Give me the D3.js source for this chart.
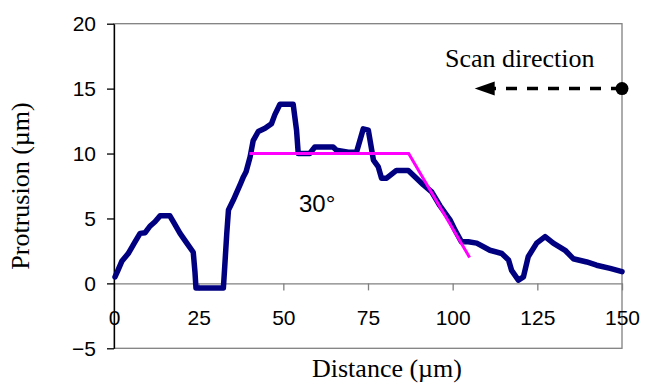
<!DOCTYPE html>
<html>
<head>
<meta charset="utf-8">
<script src="https://cdn.jsdelivr.net/npm/d3@7"></script>
<style>
  html, body { margin: 0; padding: 0; background: #fff; }
  svg { display: block; }
</style>
</head>
<body>
<svg id="chart" width="645" height="383"></svg>
<script>
// ---- data ----
const distance = [0.3, 1.0, 2.3, 4.2, 6.2, 7.7, 9.2, 10.6, 12.1, 13.6, 16.5, 17.5, 19.5, 21.5, 23.4, 23.9, 24.2,
  32.3, 32.7, 33.3, 33.8, 35.2, 37.4, 38.2, 39.0, 40.2, 41.1, 42.6, 44.6, 46.5, 47.5, 49.0, 52.9, 53.9, 54.4,
  57.8, 59.3, 64.7, 65.7, 69.2, 71.6, 73.6, 75.1, 76.6, 78.0, 79.0, 80.5, 83.4, 86.9, 89.3, 91.3, 93.8, 96.2,
  99.2, 100.7, 102.6, 104.6, 107.1, 111.0, 114.5, 116.5, 117.4, 119.4, 120.9, 122.3, 124.8, 127.3, 129.7,
  133.2, 135.6, 139.6, 142.5, 146.5, 150];
const protrusion = [0.5, 0.9, 1.7, 2.3, 3.2, 3.85, 3.9, 4.4, 4.75, 5.2, 5.2, 4.75, 3.85, 3.1, 2.4, 0.9, -0.35,
  -0.35, 1.3, 3.85, 5.65, 6.4, 7.7, 8.2, 8.6, 9.75, 11.0, 11.7, 11.95, 12.3, 13.0, 13.8, 13.8, 11.8, 10.0,
  10.0, 10.5, 10.5, 10.25, 10.1, 10.1, 11.9, 11.8, 9.5, 9.0, 8.1, 8.1, 8.7, 8.7, 8.1, 7.6, 7.05, 6.0,
  4.9, 4.1, 3.2, 3.2, 3.1, 2.55, 2.3, 1.8, 1.0, 0.25, 0.5, 2.05, 3.1, 3.6, 3.1,
  2.55, 1.9, 1.65, 1.4, 1.15, 0.9];
const guideX = [40, 87, 105];
const guideY = [10, 10, 2];
const xTicks = [0, 25, 50, 75, 100, 125, 150];
const yTicks = [-5, 0, 5, 10, 15, 20];
const arrowStart = [150, 15];
const arrowEnd = [106.5, 15];
const angleLabel = "30°";
const scanLabel = "Scan direction";
const xTitle = "Distance (µm)";
const yTitle = "Protrusion (µm)";

// ---- layout ----
const svg = d3.select("#chart");
const pLeft = 114, pRight = 622, pTop = 23.7, pBottom = 348.3;
const x = d3.scaleLinear().domain([0, 150]).range([pLeft, pRight]);
const y = d3.scaleLinear().domain([-5, 20]).range([pBottom, pTop]);

// frame (gray)
svg.append("rect").attr("x", pLeft).attr("y", pTop).attr("width", pRight - pLeft).attr("height", pBottom - pTop)
  .attr("fill", "none").attr("stroke", "#808080").attr("stroke-width", 1.3);

// x axis at y=0
const xAxis = d3.axisBottom(x).tickValues(xTicks).tickSize(7).tickPadding(20).tickSizeOuter(0).tickFormat(d3.format("d"));
const gx = svg.append("g").attr("transform", `translate(0,${y(0)})`).call(xAxis);
gx.select(".domain").attr("stroke", "#808080").attr("stroke-width", 1.3);
gx.selectAll(".tick line").attr("stroke", "#808080").attr("stroke-width", 1.3);
gx.selectAll("text").attr("font-family", "Arial, 'Liberation Sans', sans-serif").attr("font-size", 21).attr("fill", "#000");

// y axis
const yAxis = d3.axisLeft(y).tickValues(yTicks).tickSize(7).tickPadding(11).tickSizeOuter(0).tickFormat(d3.format("d"));
const gy = svg.append("g").attr("transform", `translate(${pLeft},0)`).call(yAxis);
gy.select(".domain").attr("stroke", "#000").attr("stroke-width", 1.3);
gy.selectAll(".tick line").attr("stroke", "#000").attr("stroke-width", 1.3);
gy.selectAll("text").attr("font-family", "Arial, 'Liberation Sans', sans-serif").attr("font-size", 21).attr("fill", "#000");

// data line
const pts = distance.map((d, i) => [d, protrusion[i]]);
svg.append("path").datum(pts)
  .attr("d", d3.line().x(d => x(d[0])).y(d => y(d[1])))
  .attr("fill", "none").attr("stroke", "#000080").attr("stroke-width", 5.5)
  .attr("stroke-linejoin", "round").attr("stroke-linecap", "round");

// guide (magenta)
const gpts = guideX.map((d, i) => [d, guideY[i]]);
svg.append("path").datum(gpts)
  .attr("d", d3.line().x(d => x(d[0])).y(d => y(d[1])))
  .attr("fill", "none").attr("stroke", "#FF00FF").attr("stroke-width", 3);

// angle label
svg.append("text").attr("x", 299).attr("y", 211.5)
  .attr("font-family", "Arial, 'Liberation Sans', sans-serif").attr("font-size", 24).text(angleLabel);

// scan direction arrow
const ax0 = x(arrowStart[0]), ay = y(arrowStart[1]), ax1 = x(arrowEnd[0]);
svg.append("line").attr("x1", ax0).attr("y1", ay).attr("x2", ax1 + 16).attr("y2", ay)
  .attr("stroke", "#000").attr("stroke-width", 3.5).attr("stroke-dasharray", "11,10");
svg.append("path").attr("d", `M${ax1},${ay} L${ax1 + 20},${ay - 7} L${ax1 + 20},${ay + 7} Z`).attr("fill", "#000");
svg.append("circle").attr("cx", ax0).attr("cy", ay).attr("r", 6.5).attr("fill", "#000");
svg.append("text").attr("x", 445).attr("y", 67)
  .attr("font-family", "'Times New Roman', 'Liberation Serif', serif").attr("font-size", 26).text(scanLabel);

// axis titles
svg.append("text").attr("x", 387).attr("y", 377).attr("text-anchor", "middle")
  .attr("font-family", "'Times New Roman', 'Liberation Serif', serif").attr("font-size", 26).text(xTitle);
svg.append("text").attr("transform", `translate(29,${(pTop + pBottom) / 2}) rotate(-90)`).attr("text-anchor", "middle")
  .attr("font-family", "'Times New Roman', 'Liberation Serif', serif").attr("font-size", 26).text(yTitle);
</script>
</body>
</html>
